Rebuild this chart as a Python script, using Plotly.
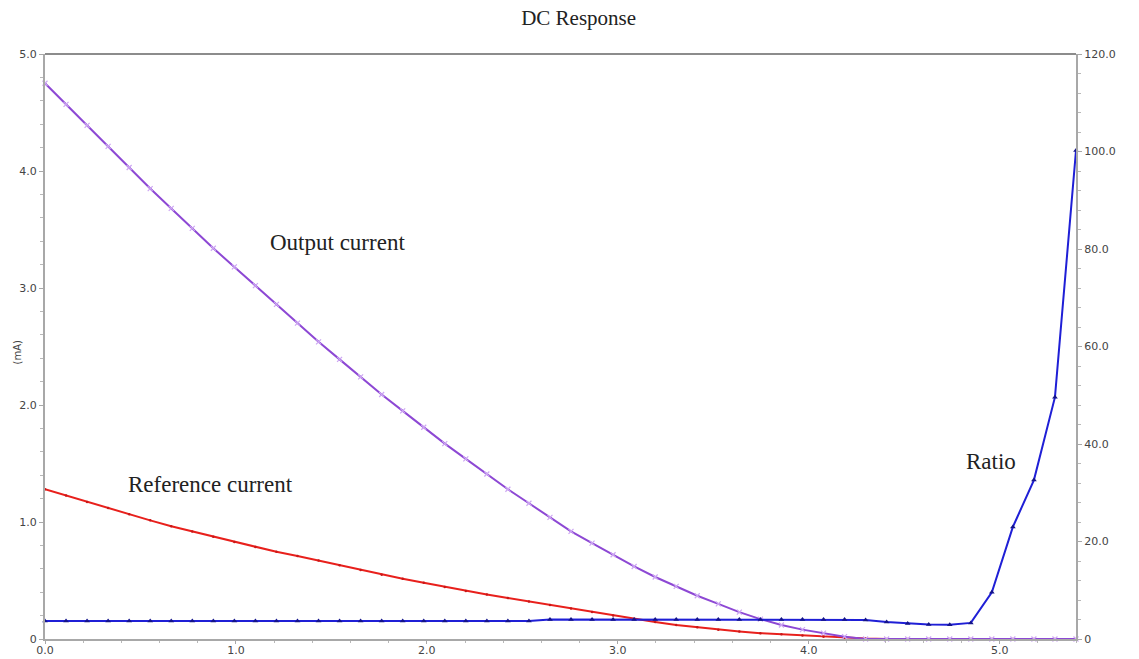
import plotly.graph_objects as go

# sweep values (V) - 50 points from 0 to 5.4
x_vals = [round(i * 5.4 / 49, 4) for i in range(50)]

output_current = [4.75, 4.57, 4.39, 4.21, 4.03, 3.85, 3.68, 3.51, 3.34, 3.18,
                  3.02, 2.86, 2.70, 2.54, 2.39, 2.24, 2.09, 1.95, 1.81, 1.67,
                  1.54, 1.41, 1.28, 1.16, 1.04, 0.92, 0.82, 0.72, 0.62, 0.53,
                  0.45, 0.37, 0.30, 0.23, 0.17, 0.12, 0.08, 0.05, 0.02, 0.0,
                  0.0, 0.0, 0.0, 0.0, 0.0, 0.0, 0.0, 0.0, 0.0, 0.0]

reference_current = [1.28, 1.226, 1.172, 1.119, 1.066, 1.014, 0.964, 0.919, 0.874, 0.830,
                     0.787, 0.745, 0.71, 0.67, 0.63, 0.59, 0.55, 0.515, 0.48, 0.445,
                     0.41, 0.38, 0.35, 0.32, 0.29, 0.26, 0.23, 0.20, 0.17, 0.145,
                     0.12, 0.10, 0.08, 0.065, 0.05, 0.04, 0.03, 0.02, 0.01, 0.005,
                     0.0, 0.0, 0.0, 0.0, 0.0, 0.0, 0.0, 0.0, 0.0, 0.0]

ratio = [3.7, 3.7, 3.7, 3.7, 3.7, 3.7, 3.7, 3.7, 3.7, 3.7,
         3.7, 3.7, 3.7, 3.7, 3.7, 3.7, 3.7, 3.7, 3.7, 3.7,
         3.7, 3.7, 3.7, 3.7, 4.0, 4.0, 4.0, 4.0, 4.0, 4.0,
         4.0, 4.0, 4.0, 4.0, 4.0, 4.0, 4.0, 4.0, 4.0, 3.9,
         3.5, 3.2, 3.0, 2.9, 3.3, 9.6, 23.0, 32.6, 49.6, 100.2]

x_ticks = [0, 1, 2, 3, 4, 5]
x_tick_labels = ["0.0", "1.0", "2.0", "3.0", "4.0", "5.0"]
y_ticks = [0, 1, 2, 3, 4, 5]
y_tick_labels = ["0", "1.0", "2.0", "3.0", "4.0", "5.0"]
y2_ticks = [0, 20, 40, 60, 80, 100, 120]
y2_tick_labels = ["0", "20.0", "40.0", "60.0", "80.0", "100.0", "120.0"]

fig = go.Figure()

fig.add_trace(go.Scatter(
    x=x_vals, y=reference_current, mode="lines+markers",
    line=dict(color="#e8201c", width=2),
    marker=dict(symbol="circle", size=2.5, color="#c81818"),
    name="Reference current", cliponaxis=False))

fig.add_trace(go.Scatter(
    x=x_vals, y=output_current, mode="lines+markers",
    line=dict(color="#8d48d4", width=2),
    marker=dict(symbol="x-thin", size=5, color="#cda6f3", line=dict(color="#cda6f3", width=1.2)),
    name="Output current", cliponaxis=False))

fig.add_trace(go.Scatter(
    x=x_vals, y=ratio, mode="lines+markers", yaxis="y2",
    line=dict(color="#1f1fd6", width=2),
    marker=dict(symbol="triangle-up", size=5, color="#14148a"),
    name="Ratio", cliponaxis=False))

axis_font = dict(family="DejaVu Sans, sans-serif", size=11, color="#444")

fig.update_layout(
    width=1139, height=659,
    margin=dict(l=45, r=63, t=54, b=20, autoexpand=False),
    paper_bgcolor="white", plot_bgcolor="white",
    showlegend=False,
    title=dict(text="DC Response", x=0.508, xanchor="center", y=0.973, yanchor="middle",
               font=dict(family="Liberation Serif, Times New Roman, serif", size=21, color="#222")),
    xaxis=dict(range=[0, 5.4], tickvals=x_ticks, ticktext=x_tick_labels,
               showgrid=False, zeroline=False, automargin=False,
               showline=True, linecolor="#a8a8a8", linewidth=2,
               ticks="outside", ticklen=3, tickcolor="#a8a8a8",
               ticklabelstandoff=-3,
               minor=dict(dtick=0.2, ticks="outside", ticklen=2, tickcolor="#b8b8b8"),
               tickfont=axis_font),
    yaxis=dict(range=[0, 5], tickvals=y_ticks, ticktext=y_tick_labels,
               showgrid=False, zeroline=False, automargin=False,
               showline=True, linecolor="#a8a8a8", linewidth=2,
               ticks="outside", ticklen=4, tickcolor="#a8a8a8",
               minor=dict(dtick=0.2, ticks="outside", ticklen=3, tickcolor="#b8b8b8"),
               tickfont=axis_font),
    yaxis2=dict(range=[0, 120], overlaying="y", side="right",
                tickvals=y2_ticks, ticktext=y2_tick_labels,
                showgrid=False, zeroline=False, automargin=False,
                showline=True, linecolor="#a8a8a8", linewidth=2,
                ticks="outside", ticklen=4, tickcolor="#a8a8a8",
                minor=dict(dtick=4, ticks="outside", ticklen=3, tickcolor="#b8b8b8"),
                tickfont=axis_font),
    font=dict(family="DejaVu Sans, sans-serif"),
)

# top border of the plot area
fig.add_shape(type="line", xref="paper", yref="paper", x0=0, x1=1, y0=1, y1=1,
              line=dict(color="#666", width=1.5))

# y-axis title
fig.add_annotation(xref="paper", yref="paper", x=-0.027, y=0.49, text="(mA)", textangle=-90,
                   showarrow=False, xanchor="center", yanchor="middle",
                   font=dict(family="DejaVu Sans, sans-serif", size=10, color="#444"))

label_font = dict(family="Liberation Serif, Times New Roman, serif", size=23, color="#222")
fig.add_annotation(x=1.53, y=3.39, text="Output current", showarrow=False, font=label_font)
fig.add_annotation(x=0.865, y=1.32, text="Reference current", showarrow=False, font=label_font)
fig.add_annotation(x=4.955, y=36.5, yref="y2", text="Ratio", showarrow=False, font=label_font)

fig.write_html("out.html")
